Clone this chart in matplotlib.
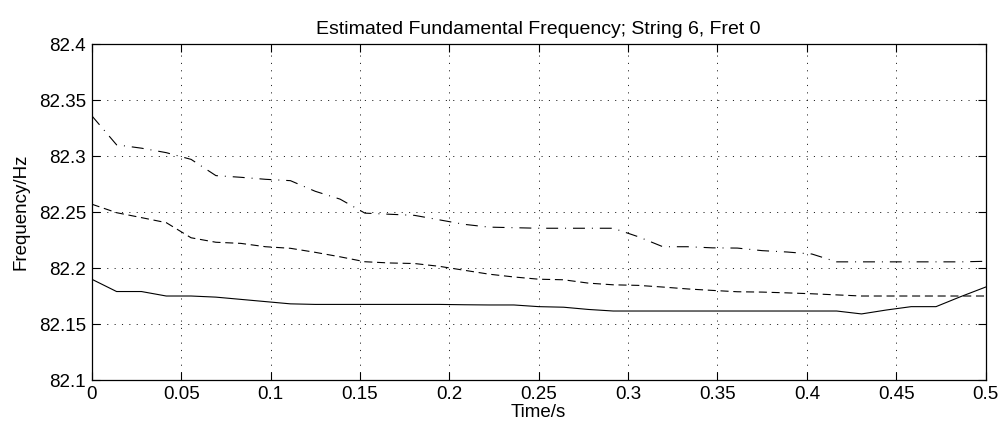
import numpy as np
import matplotlib
matplotlib.use("Agg")
import matplotlib.pyplot as plt

# frame times (37 analysis frames over 0..0.5 s)
t = np.linspace(0, 0.5, 37)

# estimated f0, three estimators
f_solid = [82.190, 82.179, 82.179, 82.175, 82.175, 82.174, 82.172, 82.170, 82.168,
           82.1675, 82.1675, 82.1675, 82.1675, 82.1675, 82.1675, 82.1672, 82.167,
           82.167, 82.1655, 82.165, 82.163, 82.1616, 82.1616, 82.1616, 82.1616,
           82.1616, 82.1616, 82.1616, 82.1616, 82.1616, 82.1616, 82.159, 82.1625,
           82.1655, 82.1655, 82.1745, 82.183]
f_dash = [82.257, 82.2494, 82.245, 82.2405, 82.227, 82.223, 82.222, 82.219, 82.2176,
          82.214, 82.210, 82.2056, 82.2045, 82.204, 82.2015, 82.198, 82.1945, 82.192,
          82.190, 82.1895, 82.1865, 82.185, 82.1845, 82.183, 82.1813, 82.180,
          82.1788, 82.1785, 82.1778, 82.177, 82.176, 82.175, 82.175, 82.175, 82.175,
          82.175, 82.175]
f_dashdot = [82.336, 82.310, 82.307, 82.303, 82.297, 82.2825, 82.281, 82.2792, 82.278,
             82.2685, 82.2615, 82.249, 82.248, 82.247, 82.243, 82.239, 82.2365, 82.236,
             82.2355, 82.2355, 82.2355, 82.2355, 82.228, 82.219, 82.219, 82.218,
             82.2178, 82.2155, 82.2143, 82.2125, 82.2055, 82.2055, 82.2055, 82.2055,
             82.2055, 82.2055, 82.206]

xticks = [0, 0.05, 0.1, 0.15, 0.2, 0.25, 0.3, 0.35, 0.4, 0.45, 0.5]
yticks = [82.1, 82.15, 82.2, 82.25, 82.3, 82.35, 82.4]

plt.rcParams['font.family'] = ['Liberation Sans', 'DejaVu Sans']
plt.rcParams['font.size'] = 13.5
plt.rcParams['lines.scale_dashes'] = False

fig = plt.figure(figsize=(10.06, 4.29), dpi=100)
ax = fig.add_axes([0.0912, 0.1142, 0.8886, 0.7832])

ax.plot(t, f_solid, color='k', lw=0.8)
ax.plot(t, f_dash, color='k', lw=0.8, dashes=(5.8, 3.4))
ax.plot(t, f_dashdot, color='k', lw=0.8, dashes=(8.6, 5, 0.7, 5))

ax.set_xlim(0, 0.5)
ax.set_ylim(82.1, 82.4)
ax.set_xticks(xticks)
ax.set_xticklabels([("%g" % v) for v in xticks])
ax.set_yticks(yticks)
ax.set_yticklabels([("%g" % v) for v in yticks])
ax.grid(True, color='k', linestyle=(0, (0.8, 4.5)), linewidth=0.6)
ax.tick_params(direction='in', length=5.5, width=0.8, top=True, right=True, pad=4)
for s in ax.spines.values():
    s.set_linewidth(0.9)

ax.set_title("Estimated Fundamental Frequency; String 6, Fret 0", fontsize=14, pad=7.5)
ax.set_xlabel("Time/s", labelpad=1)
ax.set_ylabel("Frequency/Hz", labelpad=7)

fig.savefig("out.png", dpi=100)
